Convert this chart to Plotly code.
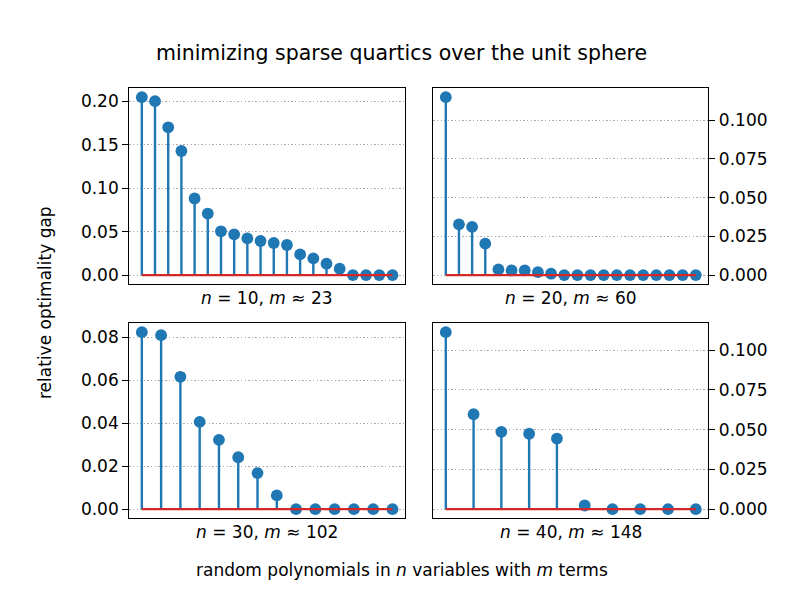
import plotly.graph_objects as go

# ---- data ----
gap_n10 = [0.2046, 0.200, 0.170, 0.1427, 0.0881, 0.0708, 0.0504, 0.0469, 0.0423, 0.0392,
           0.0369, 0.0346, 0.0238, 0.0192, 0.0131, 0.0073, 0.0, 0.0, 0.0, 0.0]
gap_n20 = [0.1149, 0.0328, 0.0311, 0.0203, 0.0037, 0.0030, 0.0030, 0.0019, 0.0009, 0.0,
           0.0, 0.0, 0.0, 0.0, 0.0, 0.0, 0.0, 0.0, 0.0, 0.0]
gap_n30 = [0.0825, 0.0811, 0.0617, 0.0407, 0.0323, 0.0242, 0.0168, 0.0064, 0.0, 0.0,
           0.0, 0.0, 0.0, 0.0]
gap_n40 = [0.1113, 0.0597, 0.0486, 0.0474, 0.0444, 0.0023, 0.0, 0.0, 0.0, 0.0]

panel_labels = ["<i>n</i> = 10, <i>m</i> ≈ 23", "<i>n</i> = 20, <i>m</i> ≈ 60",
                "<i>n</i> = 30, <i>m</i> ≈ 102", "<i>n</i> = 40, <i>m</i> ≈ 148"]
left_ticks = [[0.0, 0.05, 0.10, 0.15, 0.20], [0.0, 0.02, 0.04, 0.06, 0.08]]
right_ticks = [0.0, 0.025, 0.05, 0.075, 0.10]

title_text = "minimizing sparse quartics over the unit sphere"
ylabel_text = "relative optimality gap"
xlabel_text = "random polynomials in <i>n</i> variables with <i>m</i> terms"

# ---- layout ----
W, H = 789, 592
FONT = "DejaVu Sans"
FS = 17.0
BLUE = "#1f77b4"
RED = "#d62728"

# panel pixel boxes: (left, right, top, bottom)
boxes = [(129.3, 405.0, 88.3, 284.0), (433.3, 708.3, 88.3, 284.0),
         (129.3, 405.0, 323.3, 518.0), (433.3, 708.3, 323.3, 518.0)]
series = [gap_n10, gap_n20, gap_n30, gap_n40]
sides = ["left", "right", "left", "right"]
tickvals = [left_ticks[0], right_ticks, left_ticks[1], right_ticks]
tickfmt = [".2f", ".3f", ".2f", ".3f"]

fig = go.Figure()
layout = dict(width=W, height=H, margin=dict(l=0, r=0, t=0, b=0),
              paper_bgcolor="white", plot_bgcolor="white", showlegend=False,
              font=dict(family=FONT, size=FS, color="black"))
annotations = []

for i, (vals, box) in enumerate(zip(series, boxes)):
    k = "" if i == 0 else str(i + 1)
    xref, yref = "x" + k, "y" + k
    xs = list(range(len(vals)))
    # stems
    sx, sy = [], []
    for x, v in zip(xs, vals):
        sx += [x, x, None]
        sy += [0, v, None]
    fig.add_trace(go.Scatter(x=sx, y=sy, mode="lines", line=dict(color=BLUE, width=2.4),
                             xaxis=xref, yaxis=yref, hoverinfo="skip"))
    # markers
    fig.add_trace(go.Scatter(x=xs, y=vals, mode="markers",
                             marker=dict(color=BLUE, size=11.8, line=dict(width=0)),
                             xaxis=xref, yaxis=yref))
    # baseline
    fig.add_trace(go.Scatter(x=[xs[0], xs[-1]], y=[0, 0], mode="lines",
                             line=dict(color=RED, width=2.4),
                             xaxis=xref, yaxis=yref, hoverinfo="skip"))
    l, r, t, b = box
    n = len(vals) - 1
    vmax = max(vals)
    layout["xaxis" + k] = dict(domain=[l / W, r / W], anchor=yref,
                               range=[-0.05 * n, 1.05 * n],
                               showgrid=False, zeroline=False, showticklabels=False,
                               ticks="", showline=True, mirror=True,
                               linecolor="black", linewidth=1.3)
    layout["yaxis" + k] = dict(domain=[1 - b / H, 1 - t / H], anchor=xref,
                               range=[-0.05 * vmax, 1.05 * vmax], side=sides[i],
                               tickvals=tickvals[i], tickformat=tickfmt[i],
                               ticks="outside", ticklen=6, tickwidth=1.3, tickcolor="black",
                               showgrid=True, gridcolor="#a8a8a8", griddash="1.4px,2.2px",
                               gridwidth=1.3, zeroline=False,
                               showline=True, mirror=True, linecolor="black", linewidth=1.3,
                               tickfont=dict(family=FONT, size=FS, color="black"))
    annotations.append(dict(text=panel_labels[i], x=(l + r) / 2 / W, y=1 - (b + 14) / H,
                            xref="paper", yref="paper", showarrow=False,
                            xanchor="center", yanchor="middle",
                            font=dict(family=FONT, size=FS, color="black")))

annotations.append(dict(text=title_text, x=401 / W, y=1 - 53 / H, xref="paper", yref="paper",
                        showarrow=False, xanchor="center", yanchor="middle",
                        font=dict(family=FONT, size=20.5, color="black")))
annotations.append(dict(text=ylabel_text, x=45 / W, y=1 - 303 / H, xref="paper", yref="paper",
                        showarrow=False, xanchor="center", yanchor="middle", textangle=-90,
                        font=dict(family=FONT, size=FS, color="black")))
annotations.append(dict(text=xlabel_text, x=402 / W, y=1 - 570 / H, xref="paper", yref="paper",
                        showarrow=False, xanchor="center", yanchor="middle",
                        font=dict(family=FONT, size=FS, color="black")))
layout["annotations"] = annotations
fig.update_layout(**layout)
fig.write_html("out.html", config={"displayModeBar": False},
               post_script="document.body.style.margin='0';")
